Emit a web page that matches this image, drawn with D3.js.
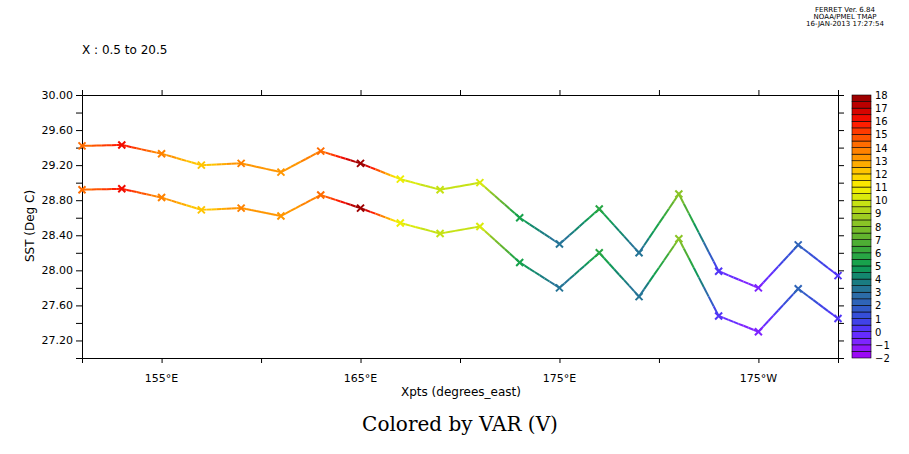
<!DOCTYPE html>
<html><head><meta charset="utf-8">
<script src="https://cdn.jsdelivr.net/npm/d3@7"></script>
<style>body{margin:0;background:#fff}text{font-family:"DejaVu Sans",sans-serif}</style>
</head><body><div id="chart"></div>
<script>
// longitude of each point (degrees east)
var lons = [151,153,155,157,159,161,163,165,167,169,171,173,175,177,179,181,183,185,187,189];
var sstTop = [29.42,29.43,29.33,29.20,29.22,29.12,29.36,29.22,29.04,28.92,29.00,28.60,28.30,28.70,28.20,28.87,27.99,27.80,28.29,27.94];
var sstLow = [28.92,28.93,28.83,28.69,28.71,28.62,28.86,28.71,28.54,28.42,28.50,28.09,27.80,28.20,27.70,28.36,27.48,27.30,27.79,27.45];
var colorVar = [14,16,13.5,12,13.5,13,14,18,10.5,9.5,10,5,3,5.5,3,8,0,-1,2,0];
var legendLevels = d3.range(-2, 18.01, 0.5);
var legendLabels = d3.range(-2, 19, 1);
var paletteStops = [-2,-1,0,1,2,3,4,5,6,7,8,9,10,11,12,13,14,15,16,17,18];
var paletteColors = ["#a000f0","#8a20ff","#5a30ff","#3848e0","#3060c0","#2a70a0","#148078","#10a050","#30a840","#58b030","#80c028","#a8d020","#d0e810","#f8f000","#ffd000","#ffa000","#ff7800","#ff4800","#ff1000","#c80000","#900000"];
var xTicks = [155,165,175,185];
var xTickLabels = ["155\u00b0E","165\u00b0E","175\u00b0E","175\u00b0W"];

var W = 909, H = 454;
var m = {left: 82, right: 838, top: 95, bottom: 358};
var svg = d3.select("#chart").append("svg").attr("width", W).attr("height", H);

var x = d3.scaleLinear().domain([151, 189]).range([m.left, m.right]);
var y = d3.scaleLinear().domain([27, 30]).range([m.bottom, m.top]);
var pal = d3.scaleLinear().domain(paletteStops).range(paletteColors).clamp(true);
function binColor(v) {
  var lv = Math.min(17.5, Math.max(-2, Math.floor(v * 2) / 2));
  return pal(lv + 0.25);
}

// axes
svg.append("g").attr("transform", "translate(0," + m.bottom + ")")
  .call(d3.axisBottom(x).tickValues(d3.range(155, 189, 5)).tickSize(5).tickFormat(""));
svg.append("g").attr("transform", "translate(0," + m.top + ")")
  .call(d3.axisTop(x).tickValues(d3.range(155, 189, 5)).tickSize(5).tickFormat(""));
svg.append("g").attr("transform", "translate(" + m.left + ",0)")
  .call(d3.axisLeft(y).tickValues(d3.range(27, 30.01, 0.2)).tickSize(6)
    .tickFormat(function(d) { return Math.round(d * 10) % 4 == 0 ? d3.format(".2f")(d) : ""; }));
svg.append("g").attr("transform", "translate(" + m.right + ",0)")
  .call(d3.axisRight(y).tickValues(d3.range(27, 30.01, 0.2)).tickSize(6).tickFormat(""));
svg.selectAll(".domain").attr("stroke", "#000");
svg.selectAll(".tick text").style("font-size", "11px").attr("fill", "#000");

svg.append("g").selectAll("text").data(xTicks).enter().append("text")
  .attr("x", function(d) { return x(d); }).attr("y", 382)
  .attr("text-anchor", "middle").style("font-size", "11px")
  .text(function(d, i) { return xTickLabels[i]; });

// colored lines
[sstTop, sstLow].forEach(function(vals) {
  var g = svg.append("g");
  for (var i = 0; i < lons.length - 1; i++) {
    var n = 8;
    for (var k = 0; k < n; k++) {
      var t0 = k / n, t1 = (k + 1) / n;
      var cv = colorVar[i] + (colorVar[i + 1] - colorVar[i]) * (t0 + t1) / 2;
      g.append("line")
        .attr("x1", x(lons[i] + 2 * t0)).attr("y1", y(vals[i] + (vals[i + 1] - vals[i]) * t0))
        .attr("x2", x(lons[i] + 2 * t1)).attr("y2", y(vals[i] + (vals[i + 1] - vals[i]) * t1))
        .attr("stroke", binColor(cv)).attr("stroke-width", 2);
    }
  }
  g.selectAll("path.mk").data(lons).enter().append("path")
    .attr("d", function(d, i) {
      var cx = x(d), cy = y(vals[i]), s = 3.5;
      return "M" + (cx - s) + "," + (cy - s) + "L" + (cx + s) + "," + (cy + s) +
        "M" + (cx - s) + "," + (cy + s) + "L" + (cx + s) + "," + (cy - s);
    })
    .attr("stroke", function(d, i) { return binColor(colorVar[i]); })
    .attr("stroke-width", 2);
});

// legend
var ly = d3.scaleLinear().domain([-2, 18]).range([358, 95]);
var lg = svg.append("g");
lg.selectAll("rect").data(legendLevels.slice(0, -1)).enter().append("rect")
  .attr("x", 852).attr("width", 19)
  .attr("y", function(d) { return ly(d + 0.5); })
  .attr("height", function(d) { return ly(d) - ly(d + 0.5); })
  .attr("fill", function(d) { return pal(d + 0.25); })
  .attr("stroke", "#000").attr("stroke-width", 0.6);
lg.selectAll("text").data(legendLabels).enter().append("text")
  .attr("x", 875).attr("y", function(d) { return ly(d) + 4; })
  .style("font-size", "10px")
  .text(function(d) { return d < 0 ? "\u2212" + (-d) : d; });

// titles
svg.append("text").attr("x", 82).attr("y", 54).style("font-size", "12px").text("X : 0.5 to 20.5");
svg.append("text").attr("x", 461).attr("y", 396).attr("text-anchor", "middle")
  .style("font-size", "12px").text("Xpts (degrees_east)");
svg.append("text").attr("transform", "translate(34,226) rotate(-90)").attr("text-anchor", "middle")
  .style("font-size", "12px").text("SST (Deg C)");
svg.append("text").attr("x", 460).attr("y", 431).attr("text-anchor", "middle")
  .style("font-family", "'DejaVu Serif',serif").style("font-size", "20px").text("Colored by VAR (V)");
var stamp = ["FERRET Ver. 6.84", "NOAA/PMEL TMAP", "16-JAN-2013 17:27:54"];
svg.append("g").selectAll("text").data(stamp).enter().append("text")
  .attr("x", 845).attr("y", function(d, i) { return 12 + i * 7; })
  .attr("text-anchor", "middle").style("font-size", "7px").text(function(d) { return d; });
</script></body></html>
